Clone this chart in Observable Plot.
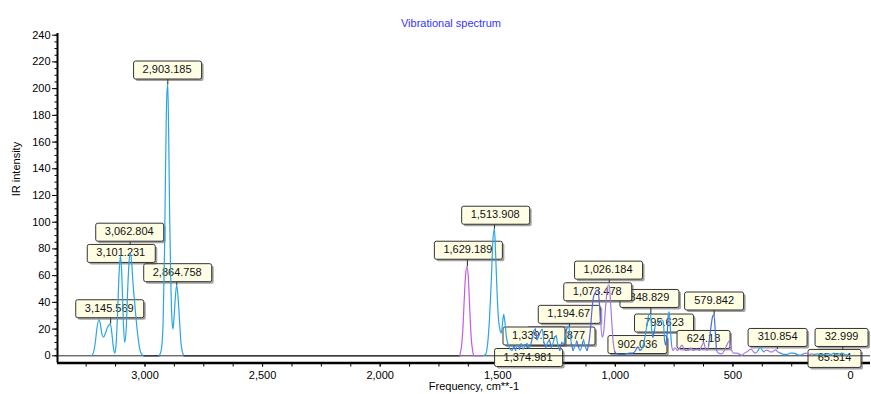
<!DOCTYPE html>
<html><head><meta charset="utf-8">
<script src="https://cdn.jsdelivr.net/npm/d3@7"></script>
<script src="https://cdn.jsdelivr.net/npm/@observablehq/plot@0.6"></script>
<style>
html,body{margin:0;padding:0;background:#fff;}
#chart{width:871px;height:394px;overflow:hidden}
</style></head><body><div id="chart"></div>
<script>
// ---- spectrum: [frequency cm-1, IR intensity, colour band] ----
const chStretch = [
  [3228,0,"c"],[3220,2,"c"],[3212,9,"c"],[3204,21,"c"],[3196,27,"c"],[3190,24,"c"],[3183,16,"c"],
  [3176,14,"c"],[3168,17,"c"],[3160,21,"c"],[3153,23,"c"],[3147,24,"c"],[3141,17,"c"],[3135,7,"c"],
  [3129,2,"c"],[3124,6,"c"],[3117,30,"c"],[3110,62,"c"],[3104,75,"c"],[3098,58,"c"],[3092,25,"c"],
  [3086,10,"c"],[3080,20,"c"],[3073,52,"c"],[3067,72,"c"],[3062,77,"c"],[3056,68,"c"],[3050,52,"c"],
  [3044,40,"c"],[3037,26,"c"],[3029,13,"c"],[3021,4,"c"],[3013,1,"c"],[3005,0,"k"],
  [2940,0,"c"],[2931,4,"c"],[2923,24,"c"],[2917,78,"c"],[2912,148,"c"],[2907,196,"c"],[2903,203,"c"],
  [2899,162,"c"],[2895,104,"c"],[2890,54,"c"],[2885,26,"c"],[2881,20,"c"],[2876,30,"c"],[2870,46,"c"],
  [2865,53,"c"],[2859,43,"c"],[2853,26,"c"],[2847,10,"c"],[2841,3,"c"],[2834,0,"k"]
];
const doubleBond = [
  [1662,0,"p"],[1655,6,"p"],[1649,18,"p"],[1643,40,"p"],[1637,60,"p"],[1631,67,"p"],[1625,58,"p"],
  [1619,35,"p"],[1613,14,"p"],[1606,3,"p"],[1600,0,"p"],[1565,0,"c"],[1552,1,"c"],[1543,9,"c"],
  [1535,28,"c"],[1527,58,"c"],[1520,88,"c"],[1514,95,"c"],[1509,76,"c"],[1503,48,"c"],[1497,28,"c"],
  [1490,19,"c"],[1485,17,"c"],[1480,24,"c"],[1475,31,"c"],[1470,26,"c"],[1463,14,"c"],[1455,8,"c"],
  [1447,5,"c"]
];
const fingerprint = [
  [1440,4,"c"],[1432,7,"v"],[1424,4,"c"],[1416,8,"c"],[1408,5,"v"],[1400,9,"c"],[1392,5,"c"],
  [1384,8,"v"],[1375,9,"c"],[1368,6,"c"],[1360,8,"v"],[1352,14,"c"],[1346,19,"c"],[1340,20,"v"],
  [1333,12,"c"],[1326,15,"v"],[1318,18,"c"],[1311,20,"c"],[1304,10,"v"],[1296,6,"c"],[1288,10,"c"],
  [1280,12,"v"],[1272,6,"c"],[1264,10,"c"],[1258,14,"v"],[1251,15,"c"],[1244,8,"c"],[1236,4,"v"],
  [1228,10,"c"],[1220,9,"c"],[1212,17,"v"],[1205,21,"c"],[1199,22,"c"],[1193,16,"c"],[1187,9,"v"],
  [1180,4,"c"],[1172,7,"c"],[1164,11,"v"],[1156,6,"c"],[1149,4,"c"],[1142,8,"v"],[1135,12,"c"],
  [1128,7,"c"],[1120,4,"v"],[1113,9,"v"],[1106,20,"v"],[1099,35,"v"],[1093,44,"v"],[1086,47,"v"],
  [1080,49,"v"],[1074,49,"v"],[1068,40,"v"],[1062,25,"l"],[1056,14,"l"],[1050,17,"l"],[1043,33,"l"],
  [1036,47,"l"],[1031,53,"l"],[1026,53,"l"],[1021,42,"l"],[1015,25,"l"],[1009,10,"l"],[1002,3,"b"],
  [994,1.5,"b"],[982,1,"b"],[968,1,"b"],[954,1.5,"b"],[940,2,"b"],[926,2,"b"],[914,4,"b"],
  [908,6,"b"],[902,6.5,"b"],[896,4,"b"],[888,5,"c"],[880,9,"c"],[872,16,"c"],[864,25,"c"],
  [857,31,"c"],[850,31,"c"],[846,20,"c"],[840,14,"b"],[833,20,"c"],[826,24,"c"],[818,23,"b"],
  [810,26,"c"],[803,27,"c"],[797,26,"c"],[791,12,"b"],[786,8,"b"],[780,16,"b"],[775,30,"c"],
  [771,33,"c"],[766,20,"c"],[761,8,"l"],[755,4,"l"],[746,6,"l"],[736,4,"l"],[726,6,"l"],
  [716,8,"l"],[708,5,"l"],[700,4,"l"],[690,4,"l"],[680,6,"l"],[668,4,"l"],[654,5,"l"],
  [642,4,"l"],[634,7,"l"],[628,9,"l"],[624,10,"l"],[618,6,"l"],[610,4,"l"]
];
const lowFreq = [
  [603,8,"b"],[596,18,"b"],[590,26,"b"],[585,30,"b"],[580,30,"b"],[575,18,"b"],[570,4,"l"],
  [561,2,"l"],[548,1.5,"l"],[536,4,"l"],[526,8,"l"],[516,11,"l"],[507,5,"l"],[497,2,"l"],
  [483,2,"l"],[470,1,"l"],[461,0.5,"l"],[451,2,"l"],[440,3,"l"],[430,4.5,"l"],[422,5,"l"],
  [413,3,"l"],[404,2,"l"],[393,4,"c"],[383,6.5,"c"],[375,4,"c"],[368,3,"l"],[360,4,"l"],
  [351,4,"l"],[342,3,"l"],[333,3,"l"],[325,4,"l"],[318,4.5,"l"],[310,3,"l"],[298,2,"c"],
  [284,1,"c"],[269,1,"c"],[255,2,"c"],[241,2,"c"],[227,1,"c"],[213,0.5,"c"],[200,1.5,"l"],
  [190,2,"l"],[177,1,"l"],[165,1.5,"l"],[155,1,"c"],[141,1.5,"c"],[128,1,"c"],[112,1,"c"],
  [96,1.5,"c"],[84,1,"c"],[70,2,"c"],[60,1,"c"],[46,1.5,"c"],[35,2,"c"],[25,1,"c"],
  [12,0.5,"c"],[0,0,"c"]
];

// ---- peak callouts (drawing order = stacking order) ----
const calloutText = ["3,145.569","2,864.758","3,101.231","3,062.804","2,903.185","1,629.189","1,513.908",
  "1,251.877","1,339.51","1,374.981","1,194.67","1,026.184","848.829","1,073.478","902.036","795.623",
  "624.18","579.842","310.854","32.999","65.514"];
const calloutPeakFreq = [3146,2865,3101,3063,2903,1629,1514,1251,1340,1375,1195,1026,849,1073,902,796,624,580,311,33,66];
const calloutPeakIR   = [24,53,75,77,203,67,95,15,20,9,22,53,31,49,6.5,26,10,30,5,2,1.5];
// callout box anchors, in data units
const calloutBoxFreq  = [3152,2863,3103,3067,2906,1627,1511,1233,1348,1371,1198,1031,855,1077,906,793,625,580,310,38,68];
const calloutBoxIR    = [35.6,62.6,77,92.9,214.3,79.4,105.6,15.2,15.2,-0.9,31.4,64.5,43.3,48.3,8.8,24.9,12.6,41.4,14.1,14.1,-1.6];

// ---- axes ----
const xDomain = [3372, -85];
const yDomain = [-5.39, 241.27];
const xMajorTicks = [0, 500, 1000, 1500, 2000, 2500, 3000];
const xMinorTicks = d3.range(0, 3300, 125);
const yMajorTicks = d3.range(0, 241, 20);
const yMinorTicks = d3.range(0, 241, 5);
const bandKeys = ["c","p","v","b","l","k"];
const bandColors = ["#2aa5e8","#c45ae8","#5b63e3","#3c6ee6","#a57ae6","#2e2e2e"];

const spectrum = [...chStretch, ...doubleBond, ...fingerprint, ...lowFreq]
  .map(([f, v, b]) => ({f, v, b}));
const callouts = calloutText.map((t, i) => ({
  t, pf: calloutPeakFreq[i], pv: calloutPeakIR[i], bf: calloutBoxFreq[i], bv: calloutBoxIR[i]
}));
const fmtThousands = d3.format(",");

const svg = Plot.plot({
  width: 871, height: 394,
  marginLeft: 57, marginRight: 1, marginTop: 33, marginBottom: 31.5,
  style: {fontFamily: "'Liberation Sans', Arial, sans-serif", fontSize: "11px", color: "#000", background: "#fff", overflow: "visible"},
  x: {domain: xDomain, label: null},
  y: {domain: yDomain, label: null},
  color: {domain: bandKeys, range: bandColors},
  marks: [
    Plot.axisX({ticks: xMinorTicks, tickSize: 4, tickFormat: () => "", label: null, stroke: "#000"}),
    Plot.axisX({ticks: xMajorTicks, tickSize: 4, tickPadding: 4.5, tickFormat: d => fmtThousands(d), label: null, stroke: "#000", fill: "#000"}),
    Plot.axisY({ticks: yMinorTicks, tickSize: 2.5, tickFormat: () => "", label: null, stroke: "#000"}),
    Plot.axisY({ticks: yMajorTicks, tickSize: 5, tickPadding: 2, label: null, stroke: "#000", fill: "#000"}),
    Plot.ruleX([xDomain[0]], {stroke: "#000", strokeWidth: 2}),
    Plot.ruleY([yDomain[0]], {stroke: "#000", strokeWidth: 2.5}),
    Plot.link(callouts, {x1: "pf", y1: "pv", x2: "pf", y2: "bv", stroke: "#222", strokeWidth: 1}),
    Plot.text(callouts, {x: "bf", y: "bv", text: "t", fill: "#111", fontSize: 11}),
    Plot.ruleY([0], {stroke: "#2e2e2e", strokeWidth: 1}),
    Plot.line(spectrum, {x: "f", y: "v", z: null, stroke: "b", strokeWidth: 1.2, curve: "monotone-x"}),
    Plot.text(["Vibrational spectrum"], {frameAnchor: "top", dx: -13, dy: -14, fill: "#3535ff", fontSize: 11}),
    Plot.text(["Frequency, cm**-1"], {frameAnchor: "bottom", dx: 10, dy: 26.5, fill: "#000", fontSize: 11}),
    Plot.text(["IR intensity"], {frameAnchor: "left", dx: -41, dy: -2, rotate: -90, fill: "#000", fontSize: 11})
  ]
});
document.getElementById("chart").append(svg);

// callout boxes behind each label (sized from the rendered text)
const calloutSet = new Set(calloutText);
const NS = "http://www.w3.org/2000/svg";
for (const t of Array.from(svg.querySelectorAll("text")).filter(el => calloutSet.has(el.textContent))) {
  const b = t.getBBox();
  const cy = b.y + b.height / 2;
  const mk = (off, fill, stroke, op) => {
    const r = document.createElementNS(NS, "rect");
    r.setAttribute("x", Math.round(b.x - 10) + 0.5 + off);
    r.setAttribute("y", Math.round(cy - 9) + 0.5 + off);
    r.setAttribute("width", Math.round(b.width + 19));
    r.setAttribute("height", 18);
    r.setAttribute("rx", 2);
    r.setAttribute("fill", fill);
    r.setAttribute("stroke", stroke || "none");
    r.setAttribute("stroke-width", 1);
    if (op) r.setAttribute("fill-opacity", op);
    const tr = t.getAttribute("transform");
    if (tr) r.setAttribute("transform", tr);
    return r;
  };
  t.parentNode.insertBefore(mk(2, "#555", null, 0.55), t);
  t.parentNode.insertBefore(mk(0, "#fffee4", "#333"), t);
}
</script></body></html>
